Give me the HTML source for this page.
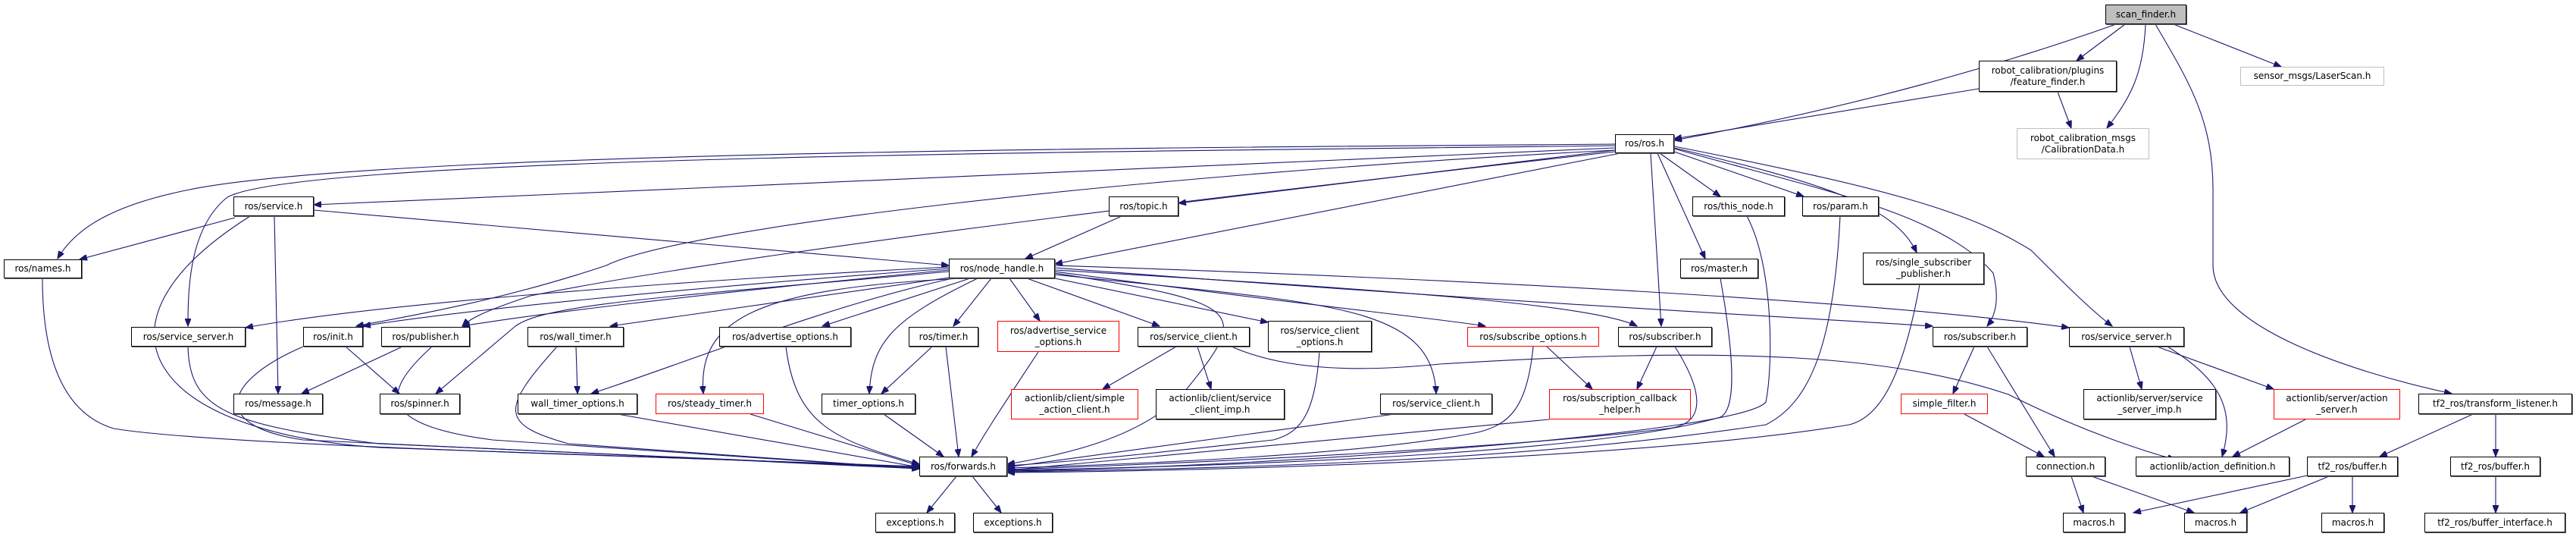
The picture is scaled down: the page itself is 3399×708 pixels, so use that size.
<!DOCTYPE html>
<html><head><meta charset="utf-8">
<style>
html,body{margin:0;padding:0;background:#fff;}
#c{position:relative;width:3399px;height:708px;overflow:hidden;background:#fff;}
.n{position:absolute;box-sizing:border-box;border:1px solid #000;box-shadow:1px 1px 0 #666;background:#fff;font-family:"DejaVu Sans","Liberation Sans",sans-serif;font-size:12px;color:#000;display:flex;align-items:center;justify-content:center;text-align:center;line-height:15px;white-space:nowrap;}
.r{border-color:#f00;box-shadow:none;}
.g{border-color:#bfbfbf;box-shadow:none;}
.s{background:#bfbfbf;}
svg{position:absolute;left:0;top:0;}
path{fill:none;stroke:#191970;stroke-width:1.1;}
</style></head><body><div id="c">
<svg width="3399" height="708" viewBox="0 0 3399 708">
<defs><marker id="a" markerUnits="userSpaceOnUse" markerWidth="11" markerHeight="8" refX="10" refY="4" orient="auto"><path d="M0,0 L10,4 L0,8 z" style="fill:#191970;stroke:#191970"/></marker></defs>
<g marker-end="url(#a)">
<path d="M2792,32 C2600,100 2400,150 2209,185"/>
<path d="M2804,32 L2740,80"/>
<path d="M2831,32 C2828,100 2810,130 2780,169"/>
<path d="M2868,32 L3010,88"/>
<path d="M2844,32 C2890,110 2920,160 2920,250 L2920,350 C2920,430 3100,490 3235,519"/>
<path d="M2611,117 L2209,183"/>
<path d="M2715,121 L2733,169"/>
<path d="M2131,190 C1500,195 500,200 250,250 C150,270 100,300 76,341"/>
<path d="M2131,192 C1500,200 400,205 300,260 C250,300 248,380 248,430"/>
<path d="M2131,195 L414,270"/>
<path d="M2131,198 C1500,230 900,300 800,350 C650,400 520,420 470,430"/>
<path d="M2131,200 C1600,260 1000,330 700,390 C640,410 620,420 610,430"/>
<path d="M2131,198 L1555,268"/>
<path d="M2138,202 L1392,348"/>
<path d="M2187,202 L2250,341"/>
<path d="M2190,202 L2270,259"/>
<path d="M2209,200 L2380,259"/>
<path d="M2209,195 C2400,240 2500,270 2529,333"/>
<path d="M2178,202 L2192,430"/>
<path d="M2209,196 C2400,250 2560,280 2630,360 C2640,400 2630,420 2622,430"/>
<path d="M2209,193 C2500,250 2600,280 2680,330 C2720,370 2760,410 2787,430"/>
<path d="M310,287 L105,342"/>
<path d="M330,285 C100,430 200,570 500,590 L1213,615"/>
<path d="M362,285 L367,519"/>
<path d="M414,277 L1252,350"/>
<path d="M1480,285 L1353,341"/>
<path d="M1252,352 C900,370 500,400 324,432"/>
<path d="M1252,354 C900,380 600,410 479,430"/>
<path d="M1252,356 C900,390 700,415 610,430"/>
<path d="M1252,358 C900,390 720,400 680,430 L575,519"/>
<path d="M1260,365 L805,430"/>
<path d="M1262,366 C1100,400 900,480 780,519"/>
<path d="M1270,367 C1000,380 920,420 928,519"/>
<path d="M1280,367 L1085,430"/>
<path d="M1290,367 C1180,420 1150,450 1147,519"/>
<path d="M1308,367 L1258,430"/>
<path d="M1332,367 L1372,423"/>
<path d="M1355,367 L1530,430"/>
<path d="M1392,367 L1673,425"/>
<path d="M1392,360 C1650,400 1650,410 1560,520 C1500,580 1400,600 1329,612"/>
<path d="M1392,362 C1750,400 1890,400 1895,519"/>
<path d="M1392,358 C1700,400 1900,420 1960,430"/>
<path d="M1392,356 C1800,380 2100,400 2160,430"/>
<path d="M1392,353 C2000,400 2400,420 2550,430"/>
<path d="M1392,350 C2000,370 2500,400 2730,432"/>
<path d="M456,457 L527,519"/>
<path d="M400,457 C300,500 270,560 400,580 L1213,618"/>
<path d="M531,457 L398,519"/>
<path d="M570,457 C500,520 500,560 650,580 L1213,618"/>
<path d="M248,457 C250,540 300,560 500,585 L1213,617"/>
<path d="M56,367 C56,500 100,550 150,565 C300,590 1000,605 1213,616"/>
<path d="M760,457 L762,519"/>
<path d="M735,457 C660,540 660,560 750,585 L1213,618"/>
<path d="M815,546 L1213,616"/>
<path d="M990,546 L1213,614"/>
<path d="M1037,457 C1050,560 1100,580 1213,612"/>
<path d="M1166,546 L1245,602"/>
<path d="M1230,457 L1163,519"/>
<path d="M1248,457 L1265,602"/>
<path d="M1370,464 C1320,540 1300,570 1282,602"/>
<path d="M1552,457 L1455,513"/>
<path d="M1580,457 L1598,513"/>
<path d="M1625,457 C1700,490 1800,490 1900,480 C2300,455 2500,470 2650,520 C2750,570 2830,595 2870,606"/>
<path d="M1741,464 C1735,540 1720,570 1680,580 C1500,600 1400,610 1329,614"/>
<path d="M1840,546 L1329,616"/>
<path d="M2041,457 L2101,513"/>
<path d="M2023,457 C2015,540 1990,560 1950,570 C1800,600 1500,612 1329,617"/>
<path d="M2186,457 L2160,513"/>
<path d="M2210,457 C2250,520 2250,560 2200,565 C2000,590 1600,610 1329,619"/>
<path d="M2044,553 L1329,620"/>
<path d="M2270,367 C2290,480 2290,540 2270,550 C2100,600 1600,615 1329,620"/>
<path d="M2305,285 C2340,350 2340,480 2330,530 C2300,570 1700,615 1329,621"/>
<path d="M2428,285 C2420,450 2390,530 2330,560 C2000,610 1600,618 1329,622"/>
<path d="M2533,375 C2510,500 2480,550 2440,560 C2200,600 1700,620 1329,623"/>
<path d="M2605,457 L2577,519"/>
<path d="M2622,457 L2711,602"/>
<path d="M2592,546 L2697,602"/>
<path d="M2810,457 L2826,513"/>
<path d="M2846,457 L3000,513"/>
<path d="M2860,457 C2930,500 2950,540 2932,602"/>
<path d="M3042,553 L2946,602"/>
<path d="M3263,546 L3140,602"/>
<path d="M3293,546 L3293,602"/>
<path d="M2733,628 L2749,676"/>
<path d="M2760,628 L2895,676"/>
<path d="M3044,627 L2815,676"/>
<path d="M3073,628 L2956,676"/>
<path d="M3104,628 L3104,676"/>
<path d="M3293,628 L3293,676"/>
<path d="M1262,628 L1223,676"/>
<path d="M1283,628 L1321,676"/>
</g>
</svg>
<div class="n s" style="left:2778px;top:6px;width:107px;height:26px">scan_finder.h</div>
<div class="n" style="left:2611px;top:80px;width:182px;height:41px">robot_calibration/plugins<br>/feature_finder.h</div>
<div class="n g" style="left:2956px;top:88px;width:190px;height:25px">sensor_msgs/LaserScan.h</div>
<div class="n g" style="left:2661px;top:169px;width:175px;height:41px">robot_calibration_msgs<br>/CalibrationData.h</div>
<div class="n" style="left:2131px;top:177px;width:78px;height:25px">ros/ros.h</div>
<div class="n" style="left:308px;top:259px;width:106px;height:26px">ros/service.h</div>
<div class="n" style="left:1463px;top:259px;width:92px;height:26px">ros/topic.h</div>
<div class="n" style="left:2233px;top:259px;width:122px;height:26px">ros/this_node.h</div>
<div class="n" style="left:2378px;top:259px;width:101px;height:26px">ros/param.h</div>
<div class="n" style="left:5px;top:342px;width:103px;height:25px">ros/names.h</div>
<div class="n" style="left:1252px;top:341px;width:140px;height:26px">ros/node_handle.h</div>
<div class="n" style="left:2217px;top:341px;width:103px;height:26px">ros/master.h</div>
<div class="n" style="left:2458px;top:333px;width:160px;height:42px">ros/single_subscriber<br>_publisher.h</div>
<div class="n" style="left:173px;top:431px;width:151px;height:26px">ros/service_server.h</div>
<div class="n" style="left:400px;top:431px;width:79px;height:26px">ros/init.h</div>
<div class="n" style="left:503px;top:431px;width:117px;height:26px">ros/publisher.h</div>
<div class="n" style="left:696px;top:431px;width:127px;height:26px">ros/wall_timer.h</div>
<div class="n" style="left:949px;top:431px;width:174px;height:26px">ros/advertise_options.h</div>
<div class="n" style="left:1199px;top:431px;width:92px;height:26px">ros/timer.h</div>
<div class="n r" style="left:1316px;top:423px;width:161px;height:41px">ros/advertise_service<br>_options.h</div>
<div class="n" style="left:1501px;top:431px;width:148px;height:26px">ros/service_client.h</div>
<div class="n" style="left:1673px;top:423px;width:137px;height:41px">ros/service_client<br>_options.h</div>
<div class="n r" style="left:1936px;top:431px;width:174px;height:26px">ros/subscribe_options.h</div>
<div class="n" style="left:2135px;top:431px;width:124px;height:26px">ros/subscriber.h</div>
<div class="n" style="left:2550px;top:431px;width:125px;height:26px">ros/subscriber.h</div>
<div class="n" style="left:2730px;top:431px;width:152px;height:26px">ros/service_server.h</div>
<div class="n" style="left:308px;top:519px;width:118px;height:27px">ros/message.h</div>
<div class="n" style="left:501px;top:519px;width:106px;height:27px">ros/spinner.h</div>
<div class="n" style="left:683px;top:519px;width:158px;height:27px">wall_timer_options.h</div>
<div class="n r" style="left:865px;top:519px;width:143px;height:27px">ros/steady_timer.h</div>
<div class="n" style="left:1084px;top:519px;width:124px;height:27px">timer_options.h</div>
<div class="n r" style="left:1334px;top:513px;width:168px;height:40px">actionlib/client/simple<br>_action_client.h</div>
<div class="n" style="left:1525px;top:513px;width:170px;height:40px">actionlib/client/service<br>_client_imp.h</div>
<div class="n" style="left:1821px;top:519px;width:148px;height:27px">ros/service_client.h</div>
<div class="n r" style="left:2044px;top:513px;width:187px;height:40px">ros/subscription_callback<br>_helper.h</div>
<div class="n r" style="left:2508px;top:519px;width:115px;height:27px">simple_filter.h</div>
<div class="n" style="left:2749px;top:513px;width:175px;height:40px">actionlib/server/service<br>_server_imp.h</div>
<div class="n r" style="left:3000px;top:513px;width:167px;height:40px">actionlib/server/action<br>_server.h</div>
<div class="n" style="left:3191px;top:519px;width:203px;height:27px">tf2_ros/transform_listener.h</div>
<div class="n" style="left:1213px;top:602px;width:116px;height:26px">ros/forwards.h</div>
<div class="n" style="left:2673px;top:602px;width:105px;height:26px">connection.h</div>
<div class="n" style="left:2818px;top:602px;width:203px;height:26px">actionlib/action_definition.h</div>
<div class="n" style="left:3044px;top:602px;width:120px;height:26px">tf2_ros/buffer.h</div>
<div class="n" style="left:3233px;top:602px;width:119px;height:26px">tf2_ros/buffer.h</div>
<div class="n" style="left:1155px;top:676px;width:105px;height:26px">exceptions.h</div>
<div class="n" style="left:1284px;top:676px;width:105px;height:26px">exceptions.h</div>
<div class="n" style="left:2722px;top:676px;width:82px;height:26px">macros.h</div>
<div class="n" style="left:2882px;top:676px;width:83px;height:26px">macros.h</div>
<div class="n" style="left:3063px;top:676px;width:83px;height:26px">macros.h</div>
<div class="n" style="left:3199px;top:676px;width:186px;height:26px">tf2_ros/buffer_interface.h</div>
</div></body></html>
